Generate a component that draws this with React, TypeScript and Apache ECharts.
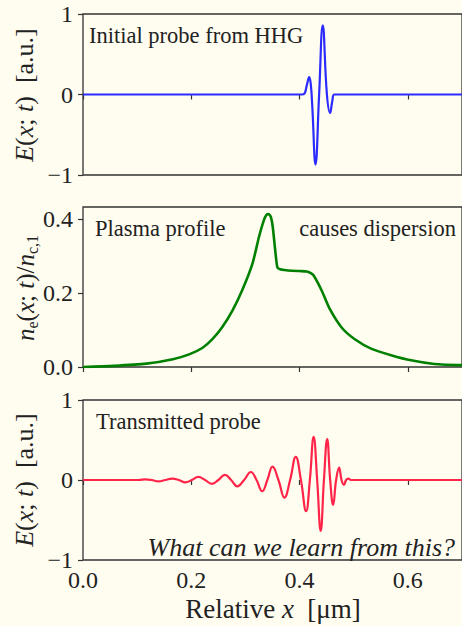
import React, { useEffect, useRef } from "react";
import * as echarts from "echarts";

// x in µm, field in a.u.
const probeX = [0, 0.404, 0.409, 0.4135, 0.4178, 0.4208, 0.4235, 0.4294, 0.4361, 0.4428, 0.4505, 0.4563, 0.4605, 0.4642, 0.7];
const probeY = [0, 0, 0.01, 0.12, 0.215, 0.12, -0.15, -0.87, 0, 0.86, 0, -0.23, -0.08, 0, 0];

const plasmaX = [0, 0.056, 0.117, 0.166, 0.196, 0.221, 0.239, 0.257, 0.276, 0.294, 0.313, 0.325, 0.334, 0.339, 0.343, 0.347, 0.3505, 0.355, 0.359, 0.364, 0.372, 0.386, 0.4, 0.413, 0.42, 0.426, 0.441, 0.456, 0.478, 0.502, 0.533, 0.569, 0.606, 0.649, 0.692, 0.7];
const plasmaY = [0, 0.003, 0.009, 0.021, 0.034, 0.052, 0.075, 0.107, 0.152, 0.207, 0.279, 0.351, 0.396, 0.411, 0.413, 0.405, 0.378, 0.315, 0.269, 0.264, 0.262, 0.26, 0.259, 0.258, 0.254, 0.247, 0.206, 0.156, 0.106, 0.075, 0.049, 0.032, 0.018, 0.008, 0.005, 0.005];

const transX = [0, 0.09, 0.103, 0.115, 0.127, 0.139, 0.152, 0.165, 0.177, 0.189, 0.201, 0.213, 0.2255, 0.238, 0.25, 0.262, 0.2735, 0.285, 0.2975, 0.31, 0.3205, 0.331, 0.3405, 0.35, 0.361, 0.372, 0.3825, 0.393, 0.4025, 0.412, 0.419, 0.426, 0.4325, 0.439, 0.445, 0.451, 0.4565, 0.462, 0.4675, 0.473, 0.4775, 0.482, 0.486, 0.49, 0.495, 0.7];
const transY = [0, 0, 0, 0.008, 0, -0.017, 0, 0.017, 0, -0.03, 0, 0.038, 0, -0.048, 0, 0.065, 0, -0.08, 0, 0.1, 0, -0.14, 0, 0.168, 0, -0.22, 0, 0.29, 0, -0.39, 0, 0.54, 0, -0.635, 0, 0.51, 0, -0.31, 0, 0.155, 0, -0.06, 0, 0.018, 0, 0];

const xTicks = [0, 0.2, 0.4, 0.6];
const fieldTicks = [-1, 0, 1];
const densityTicks = [0, 0.2, 0.4];

const BG = "#fffdf0";
const INK = "#222222";
const SPINE = "#333333";
const FONT = "Liberation Serif";

const zip = (xs: number[], ys: number[]) => xs.map((x, i) => [x, ys[i]]);
const fmtField = (v: number) => (v < 0 ? "\u2212" + Math.abs(v) : String(v));

export default function App() {
  const ref = useRef<HTMLDivElement>(null);
  useEffect(() => {
    const chart = echarts.init(ref.current!, null, { renderer: "svg" });
    const L = 83;
    const W = 381.5;
    const grids = [
      { top: 14, height: 161 },
      { top: 207, height: 160 },
      { top: 400, height: 160 },
    ].map((g) => ({
      ...g,
      left: L,
      width: W,
      show: true,
      borderColor: SPINE,
      borderWidth: 1.3,
      backgroundColor: "transparent",
    }));
    const tickStyle = { show: true, inside: false, length: 5, lineStyle: { color: SPINE, width: 1.2 } };
    const xAxes = [0, 1, 2].map((i) => ({
      type: "value",
      gridIndex: i,
      min: 0,
      max: 0.7,
      interval: 0.2,
      axisLine: { show: false },
      splitLine: { show: false },
      axisTick: { ...tickStyle, customValues: xTicks },
      axisLabel: {
        show: i === 2,
        customValues: xTicks,
        formatter: (v: number) => v.toFixed(1),
        color: INK,
        fontFamily: FONT,
        fontSize: 24,
        margin: 8,
      },
    }));
    const yLabel = { color: INK, fontFamily: FONT, fontSize: 24, margin: 10 };
    const yAxes = [
      {
        type: "value", gridIndex: 0, min: -1, max: 1, interval: 1,
        axisLine: { show: false }, splitLine: { show: false },
        axisTick: { ...tickStyle, customValues: fieldTicks },
        axisLabel: { ...yLabel, customValues: fieldTicks, formatter: fmtField },
      },
      {
        type: "value", gridIndex: 1, min: 0, max: 0.432, interval: 0.2,
        axisLine: { show: false }, splitLine: { show: false },
        axisTick: { ...tickStyle, customValues: densityTicks },
        axisLabel: { ...yLabel, customValues: densityTicks, formatter: (v: number) => v.toFixed(1) },
      },
      {
        type: "value", gridIndex: 2, min: -1, max: 1, interval: 1,
        axisLine: { show: false }, splitLine: { show: false },
        axisTick: { ...tickStyle, customValues: fieldTicks },
        axisLabel: { ...yLabel, customValues: fieldTicks, formatter: fmtField },
      },
    ];
    const line = (i: number, data: number[][], color: string, width: number, smooth: number) => ({
      type: "line",
      xAxisIndex: i,
      yAxisIndex: i,
      data,
      showSymbol: false,
      smooth,
      clip: true,
      lineStyle: { color, width },
    });
    const ann = (x: number, y: number, text: string, align = "left", size = 22.5, italic = false) => ({
      type: "text",
      x,
      y,
      style: {
        text,
        fill: INK,
        fontFamily: FONT,
        fontSize: size,
        fontStyle: italic ? "italic" : "normal",
        align,
        verticalAlign: "middle",
      },
    });
    const mathRich = (size: number) => ({
      i: { fontFamily: FONT, fontSize: size, fontStyle: "italic", fill: INK, lineHeight: size + 6, verticalAlign: "middle" },
      r: { fontFamily: FONT, fontSize: size, fill: INK, lineHeight: size + 6, verticalAlign: "middle" },
      s: { fontFamily: FONT, fontSize: Math.round(size * 0.65), fill: INK, lineHeight: Math.round(size * 0.65), verticalAlign: "bottom" },
    });
    const vlabel = (x: number, y: number, text: string, size: number) => ({
      type: "text",
      x,
      y,
      rotation: Math.PI / 2,
      style: { text, rich: mathRich(size), align: "center", verticalAlign: "middle", fill: INK, fontFamily: FONT, fontSize: size },
    });
    chart.setOption({
      animation: false,
      backgroundColor: BG,
      grid: grids,
      xAxis: xAxes,
      yAxis: yAxes,
      series: [
        line(0, zip(probeX, probeY), "#2b2bff", 2.2, 0.45),
        line(1, zip(plasmaX, plasmaY), "#008000", 2.6, 0.2),
        line(2, zip(transX, transY), "#ff2448", 2.2, 0.45),
      ],
      graphic: [
        ann(89, 35, "Initial probe from HHG"),
        ann(95, 228, "Plasma profile"),
        ann(456, 228, "causes dispersion", "right"),
        ann(96, 421, "Transmitted probe"),
        ann(455, 547, "What can we learn from this?", "right", 26, true),
        {
          type: "text",
          x: 273,
          y: 609,
          style: {
            text: "{r|Relative }{i|x}{r|  [\u03bcm]}",
            rich: mathRich(27),
            align: "center",
            verticalAlign: "middle",
            fontFamily: FONT,
            fontSize: 27,
          },
        },
        vlabel(24, 95, "{i|E}{r|(}{i|x}{r|; }{i|t}{r|)  [a.u.]}", 26),
        vlabel(25, 288, "{i|n}{s|e}{r|(}{i|x}{r|; }{i|t}{r|)/}{i|n}{s|c,1}", 25),
        vlabel(24, 480, "{i|E}{r|(}{i|x}{r|; }{i|t}{r|)  [a.u.]}", 26),
      ],
    });
    return () => chart.dispose();
  }, []);
  return <div ref={ref} style={{ width: 462, height: 626, position: "absolute", left: 0, top: 0, background: BG }} />;
}
